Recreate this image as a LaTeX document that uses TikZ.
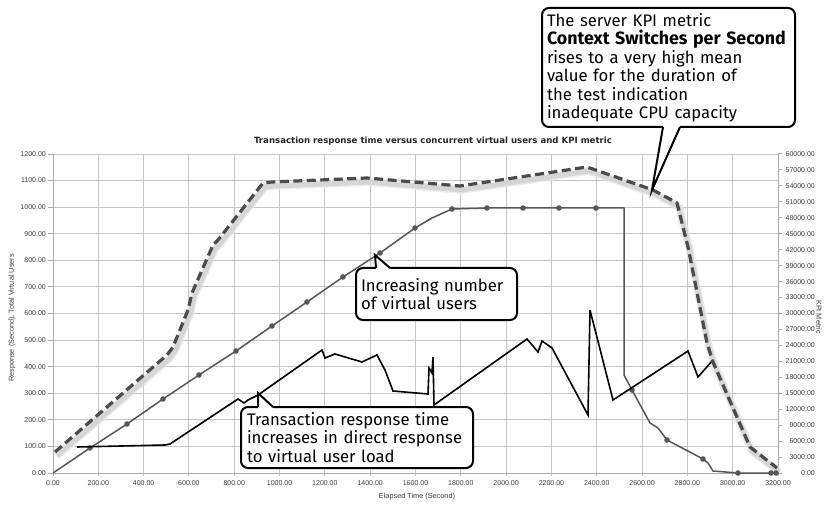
\documentclass[tikz,border=0pt]{standalone}
\usepackage{fontspec}
\setmainfont{Liberation Sans}
\newfontfamily\calloutfont{Fira Sans}
\newfontfamily\axisfont{Liberation Sans}
\newfontfamily\titlefont{DejaVu Sans}
\usetikzlibrary{calc}
\definecolor{gridgray}{HTML}{C6C6C6}
\definecolor{axisgray}{HTML}{ABABAB}
\definecolor{labelgray}{HTML}{3C3C3C}
\definecolor{kpigray}{HTML}{4B4B4B}
\definecolor{usergray}{HTML}{565656}
\tikzset{
  gridline/.style={draw=gridgray, line width=1pt},
  axisline/.style={draw=axisgray, line width=1pt},
  ticklab/.style={font=\axisfont\fontsize{7}{8}\selectfont, text=labelgray, inner sep=0pt},
  axistitle/.style={font=\axisfont\fontsize{7.3}{8}\selectfont, text=labelgray, inner sep=0pt},
  kpiline/.style={draw=kpigray, line width=3.2pt, dash pattern=on 9pt off 4.5pt, line join=round},
  kpishadow/.style={draw=gray!40, line width=5pt, line join=round, opacity=0.7},
  userline/.style={draw=usergray, line width=1.5pt, line join=round},
  userdot/.style={fill=usergray},
  respline/.style={draw=black, line width=1.6pt, line join=miter, miter limit=4},
  callout/.style={draw=black, line width=2pt, fill=white, rounded corners=7pt,
    anchor=north west, outer sep=0pt, align=left,
    font=\calloutfont\fontsize{16.7}{18.5}\selectfont},
  pointer/.style={draw=black, line width=2pt, line join=miter}
}
\begin{document}
\begin{tikzpicture}[x=1pt,y=-1pt]
\useasboundingbox (0,0) rectangle (825,505);
\fill[white] (0,0) rectangle (825,505);

% grid
\foreach \k in {1,...,15}
  \draw[gridline] ({53+45.3125*\k},154) -- ({53+45.3125*\k},476);
\foreach \j in {1,...,12}
  \draw[gridline] (53,{473-26.583*\j}) -- (778,{473-26.583*\j});
% axes
\draw[axisline] (53,154) -- (53,476);
\draw[axisline] (778,154) -- (778,476);
\draw[axisline] (53,473) -- (778,473);

% left scale
\foreach \v [count=\j from 0] in {0.00,100.00,200.00,300.00,400.00,500.00,600.00,700.00,800.00,900.00,1000.00,1100.00,1200.00}{
  \draw[axisline] (48,{473-26.583*\j}) -- (53,{473-26.583*\j});
  \node[ticklab, anchor=east] (l\j) at (46,{473-26.583*\j}) {\v};
}
% right scale
\foreach \v [count=\j from 0] in {0.00,3000.00,6000.00,9000.00,12000.00,15000.00,18000.00,21000.00,24000.00,27000.00,30000.00,33000.00,36000.00,39000.00,42000.00,45000.00,48000.00,51000.00,54000.00,57000.00,60000.00}{
  \draw[axisline] (778,{473-15.95*\j}) -- (782,{473-15.95*\j});
  \node[ticklab, anchor=east] (r\j) at (815,{473-15.95*\j}) {\v};
}
% bottom scale
\foreach \v [count=\k from 0] in {0.00,200.00,400.00,600.00,800.00,1000.00,1200.00,1400.00,1600.00,1800.00,2000.00,2200.00,2400.00,2600.00,2800.00,3000.00,3200.00}{
  \node[ticklab, anchor=base] (b\k) at ({53+45.3125*\k},485.5) {\v};
}

% titles
\node[font=\titlefont\bfseries\fontsize{8.6}{10}\selectfont, text=black!85, inner sep=0pt] (charttitle) at (433,141)
  {Transaction response time versus concurrent virtual users and KPI metric};
\node[axistitle, rotate=90] (ytitle) at (12,318) {Response (Second), Total Virtual Users};
\node[axistitle, rotate=-90] (rtitle) at (819,317) {KPI Metric};
\node[axistitle] (xtitle) at (417,497) {Elapsed Time (Second)};

% KPI metric (dashed, with soft shadow)
\def\kpipath{(55,452) -- (167,355) -- (173,347) -- (188,310) -- (192,293) -- (213,245) -- (218,240) -- (263,183) -- (272,182) -- (367,178) -- (460,186) -- (587,167) -- (653,190) -- (677,203) -- (688,247) -- (707,343) -- (713,362) -- (750,447) -- (777,468)}
\begin{scope}[shift={(2,4)}]
  \draw[kpishadow, line width=8pt, draw=gray!18] \kpipath;
  \draw[kpishadow] \kpipath;
\end{scope}

% virtual users
\draw[userline] (53,473) -- (90,448) -- (127,424) -- (163,399) -- (199,375) -- (236,351) -- (272,326) -- (307,302) -- (343,277) -- (380,253) -- (415,228) -- (432,218) -- (452,209) -- (487,208) -- (523,208) -- (559,208) -- (596,208) -- (624,208) -- (624,375) -- (632,390) -- (650,423) -- (658,428) -- (667,440) -- (703,459) -- (708,463) -- (713,471) -- (738,473) -- (776,473);
\foreach \p in {(90,448),(127,424),(163,399),(199,375),(236,351),(272,326),(307,302),(343,277),(380,253),(415,228),(452,209),(487,208),(523,208),(559,208),(596,208),(632,390),(667,440),(703,459),(738,473),(771,473),(776,473)}
  \fill[userdot] \p circle (2.8);

% transaction response time
\draw[respline] (77,447) -- (165,445) -- (170,444) -- (238,399) -- (244,403) -- (248,400) -- (258,395) -- (322,350) -- (325,358) -- (335,354) -- (362,362) -- (377,355) -- (385,370) -- (393,391) -- (428,394) -- (429,368) -- (432,373) -- (433,357) -- (434,405) -- (527,339) -- (538,352) -- (542,341) -- (552,348) -- (588,415) -- (589,362) -- (590,310) -- (613,400) -- (688,351) -- (698,377) -- (713,360);

\draw[kpiline] \kpipath;

% callouts
\node[callout, minimum width=253, minimum height=119, text width=243, inner xsep=5pt, inner ysep=3pt] (kpinote) at (542,8)
  {\rule{0pt}{14pt}The server KPI metric\\
   {\fontsize{17.8}{18.5}\selectfont\bfseries Context Switches per Second}\\
   rises to a very high mean\\
   value for the duration of\\
   the test indication\\
   inadequate CPU capacity};
\coordinate (kpitip) at (652,190);
\fill[white] ($(kpinote.south west)+(121,-2)$) -- ($(kpinote.south west)+(121,0)$) -- (kpitip) -- ($(kpinote.south west)+(138,0)$) -- ($(kpinote.south west)+(138,-2)$) -- cycle;
\draw[pointer] ($(kpinote.south west)+(121,0)$) -- (kpitip) -- ($(kpinote.south west)+(138,0)$);

\node[callout, minimum width=161, minimum height=52, text width=151, inner xsep=5pt, inner ysep=3pt] (usersnote) at (356,268)
  {Increasing number\\of virtual users};
\coordinate (userstip) at (375,255);
\fill[white] ($(usersnote.north west)+(20,2)$) -- ($(usersnote.north west)+(20,0)$) -- (userstip) -- ($(usersnote.north west)+(34,0)$) -- ($(usersnote.north west)+(34,2)$) -- cycle;
\draw[pointer] ($(usersnote.north west)+(20,0)$) -- (userstip) -- ($(usersnote.north west)+(34,0)$);

\node[callout, minimum width=232, minimum height=61, text width=220, inner xsep=6pt, inner ysep=2pt] (respnote) at (241,407)
  {Transaction response time\\increases in direct response\\to virtual user load};
\coordinate (resptip) at (258,393);
\fill[white] ($(respnote.north west)+(17,2)$) -- ($(respnote.north west)+(17,0)$) -- (resptip) -- ($(respnote.north west)+(32,0)$) -- ($(respnote.north west)+(32,2)$) -- cycle;
\draw[pointer] ($(respnote.north west)+(17,0)$) -- (resptip) -- ($(respnote.north west)+(32,0)$);
\end{tikzpicture}
\end{document}
